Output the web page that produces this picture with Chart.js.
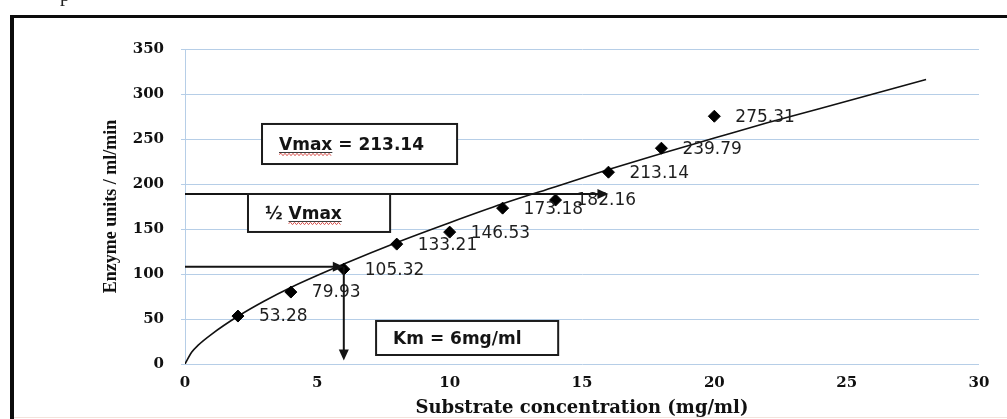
<!DOCTYPE html>
<html>
<head>
<meta charset="utf-8">
<script src="https://cdn.jsdelivr.net/npm/chart.js@4.4.0/dist/chart.umd.min.js"></script>
<style>
  html, body { margin: 0; padding: 0; background: #fff; overflow: hidden; }
  #wrap { width: 1007px; height: 419px; position: relative; }
</style>
</head>
<body>
<div id="wrap"><canvas id="c"></canvas></div>
<script>
// Substrate concentration (mg/ml) and measured enzyme activity (units/ml/min)
const substrate = [2, 4, 6, 8, 10, 12, 14, 16, 18, 20];
const activity = [53.28, 79.93, 105.32, 133.21, 146.53, 173.18, 182.16, 213.14, 239.79, 275.31];

// Fitted saturation trend curve
const trendX = [0, 0.25, 0.5, 1, 2, 3, 4, 6, 8, 10, 12, 14, 16, 18, 20, 22, 24, 26, 28];
const trendY = [0, 13, 21, 33, 53, 70, 85, 111, 135, 157, 178, 197, 216, 234, 251, 268, 284, 300, 316];

// Axis ticks
const xTicks = [0, 5, 10, 15, 20, 25, 30];
const yTicks = [0, 50, 100, 150, 200, 250, 300, 350];

// Kinetic constants and guide levels
const vmax = 213.14;
const km = 6;
const halfVmaxLevel = 108;
const upperGuideLevel = 189;
const upperGuideEnd = 16;
const kmArrowEnd = 4;

// Text boxes, anchored in data units
const notes = [
  { text: 'Vmax = ' + vmax.toFixed(2), squiggle: 'Vmax', prefix: '', x0: 2.91, x1: 10.28, y0: 266.7, y1: 222.2 },
  { text: '\u00BD Vmax', squiggle: 'Vmax', prefix: '\u00BD ', x0: 2.38, x1: 7.75, y0: 188.9, y1: 146.7 },
  { text: 'Km = ' + km + 'mg/ml', squiggle: null, prefix: '', x0: 7.22, x1: 14.1, y0: 47.8, y1: 10 }
];

const INK = '#141414';
const GRID = '#b6cee7';

function arrowHead(ctx, x, y, dir) {
  // dir: 'right' or 'down'; tip at (x, y)
  ctx.beginPath();
  if (dir === 'right') {
    ctx.moveTo(x, y);
    ctx.lineTo(x - 11, y - 5);
    ctx.lineTo(x - 11, y + 5);
  } else {
    ctx.moveTo(x, y);
    ctx.lineTo(x - 5, y - 11);
    ctx.lineTo(x + 5, y - 11);
  }
  ctx.closePath();
  ctx.fill();
}

function squiggle(ctx, x0, x1, y) {
  ctx.save();
  ctx.strokeStyle = '#d9534f';
  ctx.lineWidth = 1;
  ctx.beginPath();
  let up = true;
  ctx.moveTo(x0, y);
  for (let x = x0 + 2; x <= x1; x += 2) {
    ctx.lineTo(x, up ? y - 1.2 : y + 1.2);
    up = !up;
  }
  ctx.stroke();
  ctx.restore();
}

const framePlugin = {
  id: 'frame',
  beforeDraw(chart) {
    const ctx = chart.ctx;
    ctx.save();
    ctx.fillStyle = '#fff';
    ctx.fillRect(0, 0, chart.width, chart.height);
    ctx.fillStyle = '#0c0c0c';
    ctx.fillRect(10, 15, 4, chart.height - 15);
    ctx.fillRect(10, 15, chart.width - 10, 3);
    ctx.fillStyle = '#f3e3dc';
    ctx.fillRect(14, 417, chart.width - 14, 1);
    ctx.fillStyle = '#222';
    ctx.font = '20px "Liberation Serif"';
    ctx.textBaseline = 'alphabetic';
    ctx.fillText('p', 60, 1);
    ctx.restore();
  }
};

const notesPlugin = {
  id: 'notes',
  afterDatasetsDraw(chart) {
    const ctx = chart.ctx;
    const xs = chart.scales.x, ys = chart.scales.y;
    ctx.save();

    // value labels beside each measured point
    ctx.font = '17px "DejaVu Sans"';
    ctx.fillStyle = '#1e1e1e';
    ctx.textAlign = 'left';
    ctx.textBaseline = 'middle';
    substrate.forEach((sx, i) => {
      const px = xs.getPixelForValue(sx);
      const py = ys.getPixelForValue(activity[i]);
      ctx.fillText(activity[i].toFixed(2), px + 21, py + 1);
    });

    // guide arrows
    ctx.strokeStyle = INK;
    ctx.fillStyle = INK;
    ctx.lineWidth = 2;
    const left = xs.getPixelForValue(0);

    const uy = ys.getPixelForValue(upperGuideLevel);
    const ux = xs.getPixelForValue(upperGuideEnd);
    ctx.beginPath(); ctx.moveTo(left, uy); ctx.lineTo(ux - 6, uy); ctx.stroke();
    arrowHead(ctx, ux, uy, 'right');

    const hy = ys.getPixelForValue(halfVmaxLevel);
    const kx = xs.getPixelForValue(km);
    ctx.beginPath(); ctx.moveTo(left, hy); ctx.lineTo(kx - 6, hy); ctx.stroke();
    arrowHead(ctx, kx, hy, 'right');

    const ky = ys.getPixelForValue(kmArrowEnd);
    ctx.beginPath(); ctx.moveTo(kx, hy); ctx.lineTo(kx, ky - 6); ctx.stroke();
    arrowHead(ctx, kx, ky, 'down');

    // text boxes
    notes.forEach(n => {
      const bx0 = xs.getPixelForValue(n.x0), bx1 = xs.getPixelForValue(n.x1);
      const by0 = ys.getPixelForValue(n.y0), by1 = ys.getPixelForValue(n.y1);
      ctx.fillStyle = '#fff';
      ctx.fillRect(bx0, by0, bx1 - bx0, by1 - by0);
      ctx.strokeStyle = '#1c1c1c';
      ctx.lineWidth = 2;
      ctx.strokeRect(bx0, by0, bx1 - bx0, by1 - by0);
      ctx.font = 'bold 17px "DejaVu Sans"';
      ctx.fillStyle = INK;
      ctx.textBaseline = 'alphabetic';
      const tx = bx0 + 17;
      const base = (by0 + by1) / 2 + 6;
      ctx.fillText(n.text, tx, base);
      if (n.squiggle) {
        const sx0 = tx + ctx.measureText(n.prefix).width;
        const sx1 = sx0 + ctx.measureText(n.squiggle).width;
        ctx.fillStyle = '#3a3a3a';
        ctx.fillRect(sx0, base + 2, sx1 - sx0, 1);
        squiggle(ctx, sx0, sx1, base + 4.5);
      }
    });
    ctx.restore();
  }
};

new Chart(document.getElementById('c'), {
  type: 'scatter',
  data: {
    datasets: [
      {
        label: 'Measured',
        data: substrate.map((x, i) => ({ x, y: activity[i] })),
        pointStyle: 'rectRot',
        pointRadius: 6,
        backgroundColor: '#000',
        borderColor: '#000',
        borderWidth: 1,
        showLine: false,
        order: 1
      },
      {
        label: 'Trend',
        data: trendX.map((x, i) => ({ x, y: trendY[i] })),
        showLine: true,
        pointRadius: 0,
        borderColor: '#111',
        borderWidth: 1.6,
        cubicInterpolationMode: 'monotone',
        order: 2
      }
    ]
  },
  options: {
    responsive: true,
    maintainAspectRatio: false,
    animation: false,
    layout: { padding: { left: 101, top: 49, right: 28, bottom: 0 } },
    plugins: { legend: { display: false }, tooltip: { enabled: false } },
    scales: {
      x: {
        type: 'linear',
        min: 0, max: 30,
        afterBuildTicks: s => { s.ticks = xTicks.map(v => ({ value: v })); },
        afterFit: s => { s.height = 55; },
        grid: { display: false, drawTicks: false },
        border: { display: false },
        ticks: {
          padding: 10,
          color: '#111',
          font: { family: '"DejaVu Serif"', weight: 'bold', size: 15 }
        },
        title: {
          display: true,
          text: 'Substrate concentration (mg/ml)',
          color: '#111',
          padding: { top: 0, bottom: 0 },
          font: { family: '"DejaVu Serif"', weight: 'bold', size: 18 }
        }
      },
      y: {
        type: 'linear',
        min: 0, max: 350,
        afterBuildTicks: s => { s.ticks = yTicks.map(v => ({ value: v })); },
        afterFit: s => { s.width = 84; },
        grid: { color: GRID, lineWidth: 1, tickLength: 4 },
        border: { display: true, color: GRID },
        ticks: {
          padding: 17,
          color: '#111',
          font: { family: '"DejaVu Serif"', weight: 'bold', size: 15 }
        },
        title: {
          display: true,
          text: 'Enzyme units / ml/min',
          color: '#111',
          padding: { top: 0, bottom: 0 },
          font: { family: '"Liberation Serif"', weight: 'bold', size: 18 }
        }
      }
    }
  },
  plugins: [framePlugin, notesPlugin]
});
</script>
</body>
</html>
